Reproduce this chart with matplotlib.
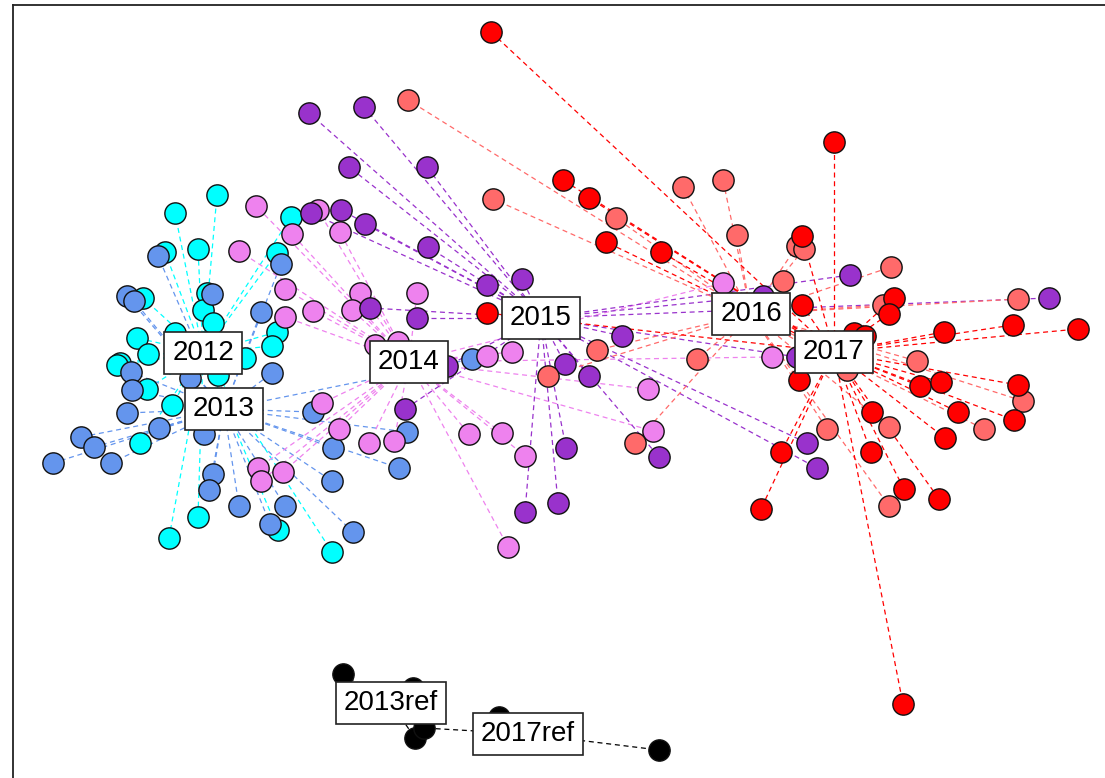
import numpy as np
import matplotlib.pyplot as plt

plt.rcParams['font.family'] = ['Liberation Sans', 'DejaVu Sans']

# NMDS site scores (screen-like units, y grows downwards)
groups = ['2012', '2013', '2014', '2015', '2016', '2017', '2013ref', '2017ref']
colours = ['#00FFFF', '#6495ED', '#EE82EE', '#9932CC', '#FF6A6A', '#FF0000', '#000000', '#000000']

x_2012 = [217, 175, 291, 198, 165, 277, 143, 207, 203, 213, 277, 272, 137, 148, 120, 245, 175,
          117, 218, 147, 172, 140, 198, 169, 278, 332]
y_2012 = [195, 213, 217, 249, 252, 253, 298, 293, 310, 323, 332, 346, 338, 354, 363, 358, 333,
          365, 375, 389, 405, 443, 517, 538, 530, 552]

x_2013 = [158, 281, 127, 134, 212, 261, 131, 190, 272, 132, 127, 159, 204, 81, 94, 53, 111,
          313, 333, 213, 209, 239, 285, 332, 270, 353, 399, 407, 472]
y_2013 = [256, 264, 296, 301, 294, 312, 372, 378, 373, 390, 413, 428, 434, 437, 447, 463, 463,
          412, 448, 474, 490, 506, 506, 481, 524, 532, 468, 432, 359]

x_2014 = [256, 239, 292, 285, 285, 313, 318, 340, 360, 352, 417, 375, 398, 487, 512, 322, 339,
          369, 394, 258, 261, 283, 469, 502, 525, 508, 723, 772, 648, 653]
y_2014 = [206, 251, 234, 289, 317, 311, 210, 232, 293, 310, 293, 345, 342, 356, 352, 403, 429,
          443, 441, 468, 481, 472, 434, 433, 456, 547, 283, 357, 389, 431]

x_2015 = [309, 364, 349, 427, 311, 341, 365, 428, 487, 522, 370, 417, 447, 565, 622, 589, 405,
          566, 525, 558, 659, 807, 817, 763, 850, 1049, 797]
y_2015 = [113, 107, 167, 167, 213, 210, 224, 247, 285, 279, 308, 318, 366, 364, 336, 376, 409,
          448, 512, 503, 457, 443, 468, 296, 275, 298, 357]

x_2016 = [408, 493, 616, 683, 723, 737, 797, 804, 783, 891, 883, 1018, 597, 548, 697, 635, 827,
          917, 847, 1023, 889, 984, 889]
y_2016 = [100, 199, 218, 187, 180, 235, 246, 249, 281, 267, 305, 299, 350, 376, 359, 443, 429,
          361, 370, 401, 427, 429, 506]

x_2017 = [491, 563, 589, 606, 661, 834, 802, 802, 894, 889, 1013, 1078, 944, 854, 865, 799, 920,
          941, 1018, 872, 958, 1014, 781, 871, 945, 904, 939, 761, 903, 487]
y_2017 = [32, 180, 198, 242, 252, 142, 236, 305, 298, 314, 325, 329, 332, 333, 336, 380, 386,
          382, 385, 412, 412, 420, 452, 452, 438, 489, 499, 509, 704, 313]

x_2013ref = [343, 413, 415]
y_2013ref = [674, 688, 738]
x_2017ref = [424, 499, 659]
y_2017ref = [728, 717, 750]

# group centroids (where the spider lines meet / labels sit)
cent_x = [203, 224, 409, 541, 751, 834, 391, 528]
cent_y = [353, 409, 362, 318, 314, 352, 703, 734]

xs = [x_2012, x_2013, x_2014, x_2015, x_2016, x_2017, x_2013ref, x_2017ref]
ys = [y_2012, y_2013, y_2014, y_2015, y_2016, y_2017, y_2013ref, y_2017ref]

fig = plt.figure(figsize=(11.05, 7.78), dpi=100)
W, H = 1105, 778
ax = fig.add_axes([13 / W, (H - 790) / H, (1120 - 13) / W, (790 - 5) / H])
ax.set_xlim(13, 1120)
ax.set_ylim(790, 5)
ax.set_xticks([])
ax.set_yticks([])
for s in ax.spines.values():
    s.set_linewidth(1.3)
    s.set_color('#222222')

# spider lines
for i in range(len(groups)):
    for px, py in zip(xs[i], ys[i]):
        ax.plot([cent_x[i], px], [cent_y[i], py], color=colours[i], lw=0.9,
                linestyle=(0, (4, 3)), zorder=1)

# points
for i in range(len(groups)):
    ax.scatter(xs[i], ys[i], s=235, c=colours[i], edgecolors='#111111',
               linewidths=1.0, zorder=2)

# labels
for i in range(len(groups)):
    ax.text(cent_x[i], cent_y[i], groups[i], fontsize=20, ha='center', va='center',
            zorder=3, bbox=dict(boxstyle='square,pad=0.3', fc='white', ec='#222222', lw=1.2))

plt.savefig('out.png', dpi=100)
